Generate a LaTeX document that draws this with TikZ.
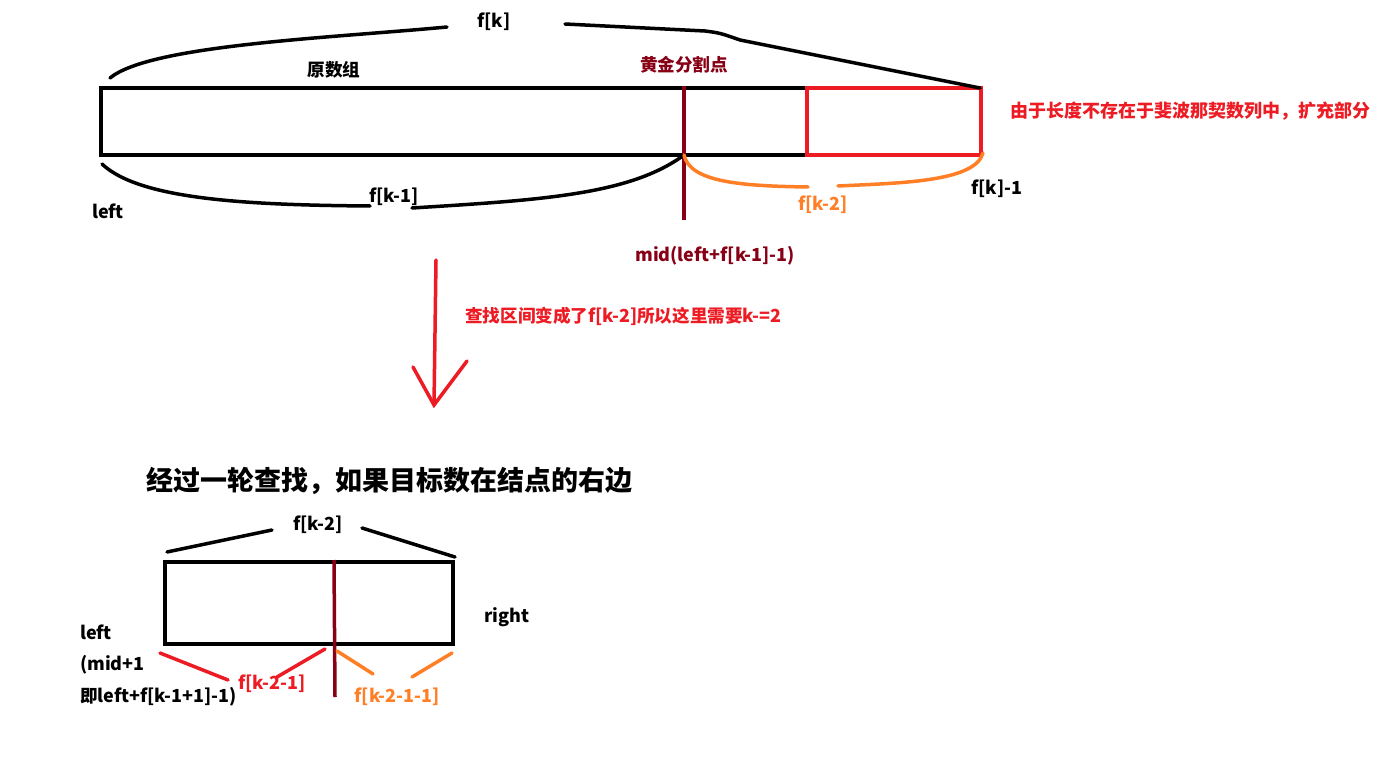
\documentclass[tikz,border=0pt]{standalone}
\usepackage{fontspec}
\setmainfont{Noto Sans CJK SC}
\newfontfamily\cjkf{Noto Sans CJK SC}
\newcommand{\zh}[1]{{\cjkf\fontsize{17.6}{20}\selectfont\bfseries #1}}
\definecolor{dred}{HTML}{880015}
\definecolor{pred}{HTML}{ED1C24}
\definecolor{porange}{HTML}{FF7F27}
\begin{document}
\begin{tikzpicture}[x=1pt,y=-1pt,
  lbl/.style={inner sep=0pt,font=\fontsize{18}{20}\selectfont\bfseries},
  big/.style={inner sep=0pt,font=\cjkf\fontsize{27}{30}\selectfont\bfseries},
  thick4/.style={line width=4pt},
  pen/.style={line width=3.5pt,line cap=round}]
\useasboundingbox[fill=white] (0,0) rectangle (1395,757);
% ---------- top figure ----------
\coordinate (tl) at (101,88);
\coordinate (br) at (807,155);
\coordinate (rtl) at (807,88);
\coordinate (rbr) at (981,155);
\draw[thick4] (rtl) -- (tl) -- (101,155) -- (br);
\draw[thick4,pred] (rtl) rectangle (rbr);
\coordinate (midtop) at (684,86);
\coordinate (midbot) at (684,220);
\draw[pen,dred,line cap=butt] (midtop) -- (midbot);
% top brace
\draw[pen] (110,78) .. controls (150,45) and (330,38) .. (447,27);
\draw[pen] (565,24) -- (705,31) .. controls (720,33) .. (740,40) -- (980,88);
\node[lbl] (fk) at (494,22) {f[k]};
\node[lbl] (yuan) at (334,70) {\zh{原数组}};
\node[lbl,dred] (gold) at (684,65) {\zh{黄金分割点}};
% bottom-left brace
\draw[pen] (102,164) .. controls (140,200) and (250,205) .. (370,206);
\draw[pen] (412,208) .. controls (540,200) and (630,195) .. (684,155);
\node[lbl] (fk1) at (394,197) {f[k-1]};
\node[lbl] (left1) at (108,211) {left};
% orange brace
\draw[pen,porange] (684,155) .. controls (690,182) and (740,186) .. (808,187);
\draw[pen,porange] (838,186) .. controls (900,183) and (975,182) .. (983,153);
\node[lbl,porange] (fk2) at (823,205) {f[k-2]};
\node[lbl] (fkm1) at (997,189) {f[k]-1};
\node[lbl,dred] (midl) at (715,256) {mid(left+f[k-1]-1)};
\node[lbl,pred,anchor=west] (expl) at (1010,111) {{\cjkf\fontsize{18}{20}\selectfont\bfseries 由于长度不存在于斐波那契数列中，扩充部分}};
% arrow
\coordinate (as) at (436,260);
\coordinate (ae) at (434,405);
\draw[pen,pred] (as) -- (ae);
\draw[pen,pred] (413,367) -- (ae) -- (467,361);
\node[lbl,pred,anchor=west] (step2) at (465,316) {\zh{查找区间变成了}f[k-2]\zh{所以这里需要}k-=2};
% ---------- bottom figure ----------
\node[big,anchor=west] (title) at (146,481) {经过一轮查找，如果目标数在结点的右边};
\coordinate (b1) at (165,562);
\coordinate (b2) at (453,644);
\draw[thick4] (b1) rectangle (b2);
\draw[pen,dred,line cap=butt] (334,560) -- (335,697);
\draw[pen] (167,552) -- (272,530);
\draw[pen] (362,528) -- (455,557);
\node[lbl] (fk2b) at (318,525) {f[k-2]};
\node[lbl] (right) at (507,617) {right};
\node[lbl,anchor=west] (left2) at (80,632) {left};
\node[lbl,anchor=west] (mid1) at (80,665) {(mid+1};
\node[lbl,anchor=west] (ji) at (80,697) {\zh{即}left+f[k-1+1]-1)};
\draw[pen,pred] (160,653) -- (228,680);
\draw[pen,pred] (277,677) -- (325,649);
\node[lbl,pred] (fk21) at (272,684) {f[k-2-1]};
\draw[pen,porange] (337,651) -- (373,674);
\draw[pen,porange] (412,677) -- (452,653);
\node[lbl,porange] (fk211) at (397,697) {f[k-2-1-1]};
\end{tikzpicture}
\end{document}
